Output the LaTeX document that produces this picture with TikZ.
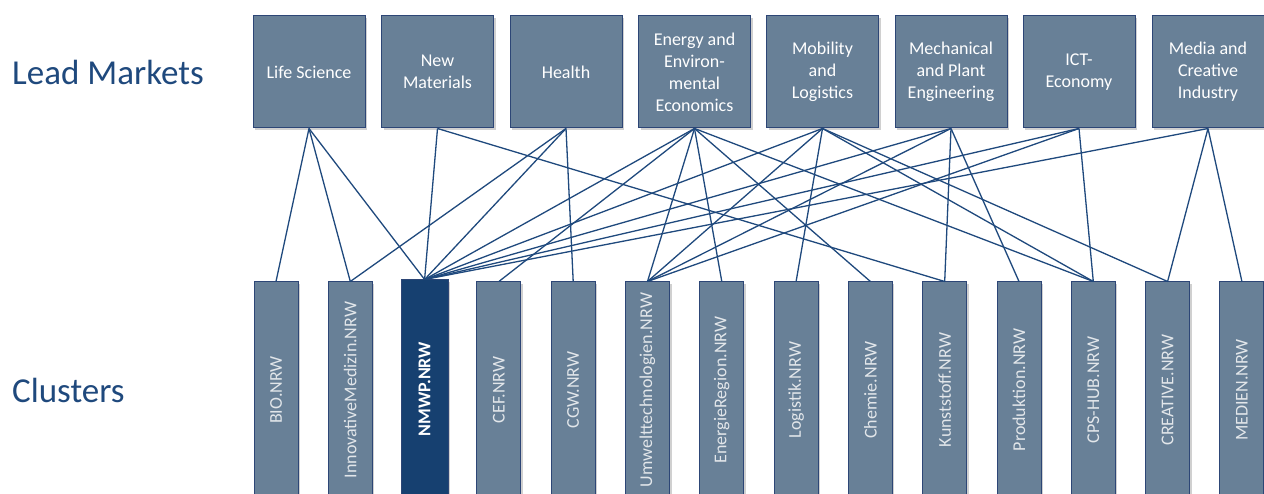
\documentclass[tikz,border=0pt]{standalone}
\usepackage{fontspec}
\usepackage{graphicx}
\setmainfont{Carlito}
\usetikzlibrary{shadows}
\definecolor{boxfill}{RGB}{104,128,151}
\definecolor{boxline}{RGB}{45,70,118}
\definecolor{nmwpfill}{RGB}{22,64,112}
\definecolor{linkc}{RGB}{31,73,125}
\definecolor{headc}{RGB}{31,73,125}
\definecolor{lblc}{RGB}{226,230,234}
\tikzset{
  boxshadow/.style={drop shadow={shadow xshift=2pt, shadow yshift=-2pt, opacity=0.3, fill=black!60}},
  market/.style={draw=boxline, line width=1pt, fill=boxfill, minimum width=112pt, minimum height=112pt,
    inner sep=0pt, text=white, align=center, font=\fontsize{18}{22}\selectfont, boxshadow},
  cluster/.style={draw=boxline, line width=1pt, fill=boxfill, minimum width=44pt, minimum height=216pt,
    inner sep=0pt, text=lblc, font=\fontsize{18}{22}\selectfont, boxshadow},
  keycluster/.style={cluster, fill=nmwpfill, minimum width=47pt, minimum height=218pt, text=white,
    font=\fontsize{18}{22}\selectfont\bfseries},
  link/.style={draw=linkc, line width=1.3pt},
  heading/.style={anchor=west, text=headc, font=\fontsize{35}{40}\selectfont, inner sep=0pt}
}
\begin{document}
\begin{tikzpicture}[x=1pt,y=1pt]
\useasboundingbox (0,0) rectangle (1264,494);
\fill[white] (0,0) rectangle (1264,494);

% headings
\node[heading] (hlm) at (12,422) {Lead Markets};
\node[heading] (hcl) at (12,104) {Clusters};

% lead markets
\node[market] (t1) at (309,422)   {Life Science};
\node[market] (t2) at (437.5,422) {New\\Materials};
\node[market] (t3) at (566,422)   {Health};
\node[market] (t4) at (694.5,422) {Energy and\\Environ-\\mental\\Economics};
\node[market] (t5) at (822.5,422) {Mobility\\and\\Logistics};
\node[market] (t6) at (951,422)   {Mechanical\\and Plant\\Engineering};
\node[market] (t7) at (1079,422)  {ICT-\\Economy};
\node[market] (t8) at (1208,422)  {Media and\\Creative\\Industry};

% clusters
\node[cluster] (b1) at (276,104)     {\rotatebox{90}{BIO.NRW}};
\node[cluster] (b2) at (350.3,104)   {\rotatebox{90}{InnovativeMedizin.NRW}};
\node[keycluster] (b3) at (424.6,105) {\rotatebox{90}{NMWP.NRW}};
\node[cluster] (b4) at (498.9,104)   {\rotatebox{90}{CEF.NRW}};
\node[cluster] (b5) at (573.2,104)   {\rotatebox{90}{CGW.NRW}};
\node[cluster] (b6) at (647.5,104)   {\rotatebox{90}{Umwelttechnologien.NRW}};
\node[cluster] (b7) at (721.8,104)   {\rotatebox{90}{EnergieRegion.NRW}};
\node[cluster] (b8) at (796.1,104)   {\rotatebox{90}{Logistik.NRW}};
\node[cluster] (b9) at (870.4,104)   {\rotatebox{90}{Chemie.NRW}};
\node[cluster] (b10) at (944.7,104)  {\rotatebox{90}{Kunststoff.NRW}};
\node[cluster] (b11) at (1019,104)   {\rotatebox{90}{Produktion.NRW}};
\node[cluster] (b12) at (1093.3,104) {\rotatebox{90}{CPS-HUB.NRW}};
\node[cluster] (b13) at (1167.6,104) {\rotatebox{90}{CREATIVE.NRW}};
\node[cluster] (b14) at (1241.9,104) {\rotatebox{90}{MEDIEN.NRW}};

% connections
\foreach \t/\b in {t1/b1, t1/b2, t1/b3,
                   t2/b3, t2/b10,
                   t3/b2, t3/b3, t3/b5,
                   t4/b3, t4/b4, t4/b6, t4/b7, t4/b9, t4/b12,
                   t5/b3, t5/b6, t5/b8, t5/b12, t5/b13,
                   t6/b3, t6/b6, t6/b10, t6/b11,
                   t7/b3, t7/b6, t7/b12,
                   t8/b3, t8/b13, t8/b14}
  \draw[link] (\t.south) -- (\b.north);
\end{tikzpicture}
\end{document}
